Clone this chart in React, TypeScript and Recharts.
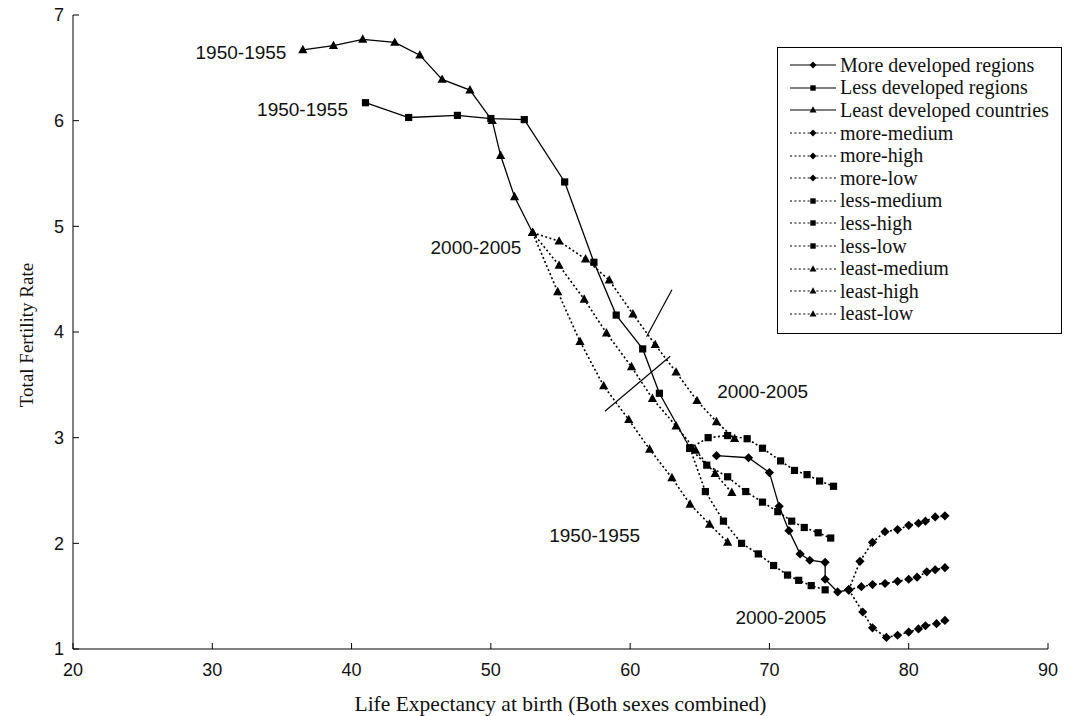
import React from "react";
import { ComposedChart, Scatter, XAxis, YAxis, Legend, ReferenceLine, ReferenceDot } from "recharts";

const xTicks = [20, 30, 40, 50, 60, 70, 80, 90];
const yTicks = [1, 2, 3, 4, 5, 6, 7];

// [life expectancy, total fertility rate], 1950-1955 ... 2000-2005
const moreDeveloped = [[66.2, 2.83], [68.5, 2.81], [70.0, 2.67], [70.7, 2.35], [71.4, 2.12], [72.2, 1.9], [72.9, 1.84], [74.0, 1.82], [74.0, 1.66], [74.9, 1.54], [75.7, 1.56]];
const lessDeveloped = [[41.0, 6.17], [44.1, 6.03], [47.6, 6.05], [50.0, 6.02], [52.4, 6.01], [55.3, 5.42], [57.4, 4.66], [59.0, 4.16], [60.9, 3.84], [62.1, 3.42], [64.3, 2.9]];
const leastDeveloped = [[36.5, 6.67], [38.7, 6.71], [40.8, 6.77], [43.1, 6.74], [44.9, 6.62], [46.5, 6.39], [48.5, 6.29], [50.1, 6.0], [50.7, 5.67], [51.7, 5.28], [53.0, 4.94]];

// projections, 2000-2005 ... 2045-2050
const moreMedium = [[75.7, 1.56], [76.6, 1.59], [77.4, 1.61], [78.3, 1.62], [79.2, 1.64], [80.0, 1.66], [80.6, 1.68], [81.3, 1.73], [81.9, 1.75], [82.6, 1.77]];
const moreHigh = [[75.7, 1.56], [76.5, 1.83], [77.4, 2.01], [78.3, 2.11], [79.2, 2.13], [80.0, 2.17], [80.7, 2.19], [81.2, 2.21], [81.9, 2.25], [82.6, 2.26]];
const moreLow = [[75.7, 1.56], [76.7, 1.35], [77.4, 1.2], [78.4, 1.11], [79.2, 1.13], [80.0, 1.16], [80.7, 1.19], [81.2, 1.22], [82.0, 1.24], [82.6, 1.27]];
const lessMedium = [[64.3, 2.9], [65.5, 2.74], [67.0, 2.63], [68.3, 2.49], [69.5, 2.39], [70.6, 2.3], [71.6, 2.21], [72.5, 2.15], [73.5, 2.1], [74.4, 2.05]];
const lessHigh = [[64.3, 2.9], [65.6, 3.0], [67.0, 3.02], [68.4, 2.99], [69.5, 2.9], [70.8, 2.78], [71.8, 2.69], [72.7, 2.65], [73.6, 2.59], [74.6, 2.54]];
const lessLow = [[64.3, 2.9], [65.4, 2.49], [66.7, 2.21], [68.0, 2.0], [69.2, 1.9], [70.3, 1.79], [71.3, 1.7], [72.1, 1.65], [73.0, 1.6], [74.0, 1.56]];
const leastMedium = [[53.0, 4.94], [54.9, 4.63], [56.7, 4.31], [58.3, 3.99], [60.1, 3.67], [61.6, 3.37], [63.3, 3.11], [64.7, 2.88], [66.1, 2.66], [67.3, 2.48]];
const leastHigh = [[53.0, 4.94], [54.9, 4.86], [56.8, 4.69], [58.5, 4.49], [60.2, 4.17], [61.8, 3.88], [63.3, 3.62], [64.8, 3.35], [66.2, 3.15], [67.5, 2.99]];
const leastLow = [[53.0, 4.94], [54.8, 4.38], [56.4, 3.91], [58.1, 3.49], [59.9, 3.17], [61.4, 2.89], [63.0, 2.62], [64.3, 2.37], [65.7, 2.18], [67.0, 2.01]];

type Kind = "diamond" | "square" | "triangle";

const series: { name: string; data: number[][]; kind: Kind; dotted: boolean }[] = [
  { name: "More developed regions", data: moreDeveloped, kind: "diamond", dotted: false },
  { name: "Less developed regions", data: lessDeveloped, kind: "square", dotted: false },
  { name: "Least developed countries", data: leastDeveloped, kind: "triangle", dotted: false },
  { name: "more-medium", data: moreMedium, kind: "diamond", dotted: true },
  { name: "more-high", data: moreHigh, kind: "diamond", dotted: true },
  { name: "more-low", data: moreLow, kind: "diamond", dotted: true },
  { name: "less-medium", data: lessMedium, kind: "square", dotted: true },
  { name: "less-high", data: lessHigh, kind: "square", dotted: true },
  { name: "less-low", data: lessLow, kind: "square", dotted: true },
  { name: "least-medium", data: leastMedium, kind: "triangle", dotted: true },
  { name: "least-high", data: leastHigh, kind: "triangle", dotted: true },
  { name: "least-low", data: leastLow, kind: "triangle", dotted: true },
];

const toPoints = (a: number[][]) => a.map(([x, y]) => ({ x, y }));

const SERIF = "'Liberation Serif', 'Times New Roman', serif";
const SANS = "'Liberation Sans', Arial, sans-serif";
const DOTS = "2 2.4";

function Mark({ kind, cx, cy, s = 1 }: { kind: Kind; cx: number; cy: number; s?: number }) {
  if (cx == null || cy == null) return null;
  if (kind === "square") {
    const h = 3.6 * s;
    return <rect x={cx - h} y={cy - h} width={2 * h} height={2 * h} fill="#000" />;
  }
  if (kind === "diamond") {
    const h = 4.6 * s;
    return <polygon points={`${cx},${cy - h} ${cx + h},${cy} ${cx},${cy + h} ${cx - h},${cy}`} fill="#000" />;
  }
  const w = 4.6 * s;
  return <polygon points={`${cx},${cy - 5 * s} ${cx + w},${cy + 3.4 * s} ${cx - w},${cy + 3.4 * s}`} fill="#000" />;
}

function LegendBox() {
  return (
    <div
      style={{
        boxSizing: "border-box",
        width: "100%",
        border: "1px solid #000",
        background: "#fff",
        padding: "6px 0 8px 12px",
        fontFamily: SERIF,
        fontSize: 20,
        color: "#111",
      }}
    >
      {series.map((s) => (
        <div key={s.name} style={{ display: "flex", alignItems: "center", height: 22.6, whiteSpace: "nowrap" }}>
          <svg width={48} height={12} style={{ marginRight: 2, flex: "none" }}>
            <line x1={0} y1={6} x2={46} y2={6} stroke="#000" strokeWidth={1.2} strokeDasharray={s.dotted ? DOTS : undefined} />
            <Mark kind={s.kind} cx={23} cy={6} s={0.75} />
          </svg>
          <span>{s.name}</span>
        </div>
      ))}
    </div>
  );
}

const noteStyle = { fontFamily: SANS, fontSize: 19, fill: "#111" };

export default function App() {
  const drawOrder = [...series.slice(3), ...series.slice(0, 3)];
  return (
    <div style={{ position: "absolute", left: 0, top: 0 }}>
      <ComposedChart width={1085} height={716} margin={{ top: 15, right: 37, bottom: 0, left: 0 }}>
        <XAxis
          type="number"
          dataKey="x"
          domain={[20, 90]}
          ticks={xTicks}
          height={67}
          stroke="#000"
          tickSize={-6}
          tickMargin={20}
          tick={{ fontFamily: SANS, fontSize: 18, fill: "#111" }}
          label={{
            value: "Life Expectancy at birth (Both sexes combined)",
            position: "center",
            dy: 21,
            style: { fontFamily: SERIF, fontSize: 21.5, fill: "#111" },
          }}
        />
        <YAxis
          type="number"
          dataKey="y"
          domain={[1, 7]}
          ticks={yTicks}
          width={73}
          stroke="#000"
          tickSize={-6}
          tickMargin={15}
          tick={{ fontFamily: SANS, fontSize: 18, fill: "#111" }}
          label={{
            value: "Total Fertility Rate",
            angle: -90,
            position: "center",
            dx: -10,
            dy: 3,
            style: { fontFamily: SERIF, fontSize: 19, fill: "#111" },
          }}
        />
        {drawOrder.map((s) => (
          <Scatter
            key={s.name}
            name={s.name}
            data={toPoints(s.data)}
            fill="#000"
            line={{ stroke: "#000", strokeWidth: s.dotted ? 1.6 : 1.3, strokeDasharray: s.dotted ? DOTS : undefined }}
            lineType="joint"
            shape={(p: any) => <Mark kind={s.kind} cx={p.cx} cy={p.cy} />}
            isAnimationActive={false}
          />
        ))}
        <ReferenceLine segment={[{ x: 61.18, y: 3.955 }, { x: 63.0, y: 4.4 }]} stroke="#000" strokeWidth={1.2} />
        <ReferenceLine segment={[{ x: 58.19, y: 3.25 }, { x: 62.88, y: 3.77 }]} stroke="#000" strokeWidth={1.2} />
        <ReferenceDot x={32.06} y={6.65} r={0} stroke="none" label={{ value: "1950-1955", position: "center", ...noteStyle }} />
        <ReferenceDot x={36.48} y={6.11} r={0} stroke="none" label={{ value: "1950-1955", position: "center", ...noteStyle }} />
        <ReferenceDot x={48.93} y={4.8} r={0} stroke="none" label={{ value: "2000-2005", position: "center", ...noteStyle }} />
        <ReferenceDot x={69.51} y={3.44} r={0} stroke="none" label={{ value: "2000-2005", position: "center", ...noteStyle }} />
        <ReferenceDot x={57.45} y={2.08} r={0} stroke="none" label={{ value: "1950-1955", position: "center", ...noteStyle }} />
        <ReferenceDot x={70.82} y={1.3} r={0} stroke="none" label={{ value: "2000-2005", position: "center", ...noteStyle }} />
        <Legend
          layout="vertical"
          align="center"
          verticalAlign="middle"
          content={() => <LegendBox />}
          wrapperStyle={{ left: 777, top: 47, width: 285 }}
        />
      </ComposedChart>
    </div>
  );
}
